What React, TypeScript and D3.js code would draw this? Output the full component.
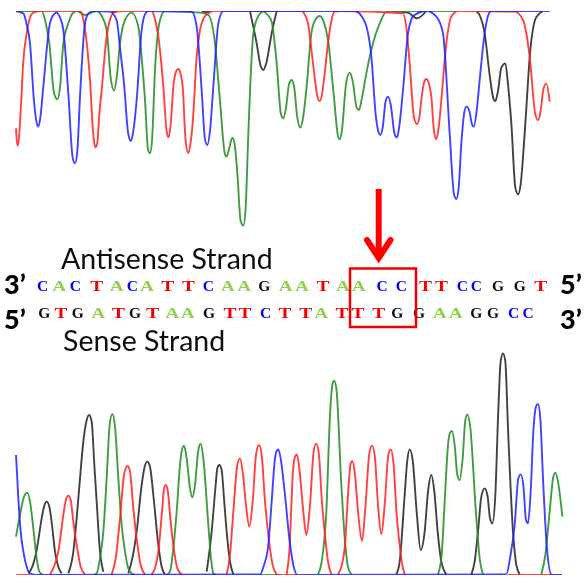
import React from 'react'
import * as d3 from 'd3'

type Trace = [number, number][][]

// scan position, signal strength., one list per stretch of a trace
const antisenseBlack: Trace = [
  [[335,0],[345,3],[352,0]],
  [[605,0],[617,3],[630,0]],
  [[750,2],[770,97],[782,165],[790,177],[798,160],[815,67],[830,0]],
  [[1179,0],[1224,5],[1251,22],[1279,0]],
  [[1429,0],[1440,15],[1454,67],[1470,200],[1481,265],[1486,270],[1494,240],[1504,170],[1516,157],[1524,220],[1534,337],[1546,530],[1554,550],[1562,520],[1574,367],[1591,117],[1608,20],[1629,0]],
]
const antisenseGreen: Trace = [
  [[48,0],[125,0],[137,35],[148,97],[162,245],[172,265],[180,230],[190,97],[205,37],[217,8],[230,0],[255,12],[290,0],[305,15],[320,57],[332,200],[342,239],[350,200],[360,97],[375,27],[395,5],[415,47],[425,140],[435,267],[444,415],[450,427],[456,390],[465,177],[480,27],[495,0],[600,5],[625,12],[645,97],[660,270],[675,430],[680,437],[688,410],[697,380],[704,400],[712,487],[722,630],[730,644],[737,590],[745,367],[760,67],[775,15],[790,2],[803,12],[815,32],[830,157],[843,310],[850,322],[858,290],[867,220],[875,207],[882,225],[892,320],[901,350],[910,315],[919,237],[934,67],[945,28],[959,15],[972,35],[984,87],[1002,260],[1014,375],[1019,385],[1025,365],[1038,220],[1049,185],[1058,210],[1070,290],[1077,297],[1085,265],[1099,187],[1119,97],[1140,35],[1159,2],[1179,0],[1369,0]],
]
const antisenseRed: Trace = [
  [[48,352],[52,404],[56,390],[62,300],[70,150],[80,67],[90,20],[100,5],[120,0],[240,0],[250,25],[258,77],[270,207],[279,360],[284,402],[287,409],[292,395],[298,310],[305,237],[320,77],[332,20],[345,2],[370,0],[455,0],[465,25],[475,77],[490,227],[500,360],[506,379],[512,340],[520,227],[528,182],[535,174],[541,185],[548,227],[557,390],[565,427],[571,400],[578,337],[590,137],[600,57],[612,20],[625,7],[640,0],[904,0],[914,10],[924,37],[939,157],[952,255],[959,270],[966,250],[974,187],[984,97],[994,30],[1004,2],[1020,0],[1209,7],[1219,50],[1229,157],[1242,320],[1251,339],[1258,320],[1264,267],[1272,215],[1279,204],[1286,215],[1294,257],[1302,360],[1309,385],[1316,350],[1324,267],[1339,97],[1354,17],[1374,0],[1544,2],[1569,27],[1589,137],[1606,310],[1614,327],[1622,300],[1630,235],[1639,217],[1649,272]],
]
const antisenseBlue: Trace = [
  [[48,0],[70,7],[80,40],[90,97],[102,270],[110,335],[115,347],[121,320],[130,227],[148,47],[158,15],[170,5],[180,20],[190,57],[205,247],[218,440],[225,457],[232,420],[240,257],[255,37],[265,8],[280,0],[330,2],[350,27],[360,110],[372,217],[385,370],[393,390],[400,360],[410,267],[425,57],[435,10],[445,0],[575,2],[590,47],[605,237],[615,385],[622,402],[630,360],[640,227],[655,37],[670,0],[1064,0],[1094,32],[1114,137],[1128,320],[1136,365],[1141,372],[1148,350],[1157,270],[1164,257],[1172,280],[1184,370],[1191,379],[1198,345],[1209,237],[1224,67],[1234,25],[1244,12],[1279,0],[1309,17],[1329,67],[1349,367],[1362,550],[1369,564],[1376,530],[1384,397],[1392,310],[1399,287],[1408,300],[1416,340],[1421,347],[1430,300],[1439,207],[1454,67],[1464,15],[1474,0],[1649,0]],
]

const senseBlack: Trace = [
  [[85,5],[97,25],[110,75],[125,170],[132,205],[140,220],[148,205],[156,150],[165,70],[175,25],[185,5]],
  [[205,5],[220,70],[230,170],[240,290],[250,400],[259,460],[267,480],[275,460],[283,330],[290,220],[300,70],[310,10]],
  [[385,5],[397,50],[410,130],[425,270],[434,325],[442,340],[450,325],[460,240],[475,90],[485,25],[495,2]],
  [[620,10],[635,130],[647,270],[652,320],[658,330],[665,315],[672,230],[680,130],[690,40],[700,2]],
  [[1189,2],[1199,40],[1214,240],[1222,345],[1229,377],[1238,345],[1250,190],[1262,75],[1274,130],[1284,250],[1294,300],[1303,250],[1313,130],[1324,40],[1339,2]],
  [[1414,2],[1424,40],[1434,130],[1444,235],[1454,260],[1463,235],[1470,170],[1477,155],[1486,240],[1494,470],[1502,640],[1509,665],[1516,640],[1524,440],[1539,130],[1549,30],[1559,2]],
]
const senseGreen: Trace = [
  [[48,115],[60,180],[72,235],[82,247],[90,220],[100,140],[110,50],[118,10],[130,0]],
  [[280,0],[290,5],[300,50],[310,130],[320,290],[329,450],[337,483],[345,445],[355,290],[365,150],[375,70],[385,20],[395,5],[405,0]],
  [[500,0],[510,10],[520,80],[530,190],[540,330],[547,380],[552,388],[560,350],[570,260],[577,233],[585,270],[595,375],[602,394],[610,350],[625,150],[633,50],[640,5],[650,0]],
  [[954,2],[965,40],[979,190],[990,480],[997,570],[1002,583],[1009,560],[1024,270],[1035,100],[1045,20],[1054,2]],
  [[1314,2],[1325,60],[1334,220],[1345,400],[1351,428],[1356,432],[1364,390],[1372,300],[1379,285],[1388,350],[1396,465],[1402,482],[1410,450],[1429,170],[1439,50],[1449,2]],
  [[1624,2],[1636,60],[1649,190],[1660,295],[1666,307],[1674,280],[1687,175]],
]
const senseRed: Trace = [
  [[150,2],[162,25],[175,70],[190,180],[199,230],[205,238],[212,225],[220,160],[230,90],[242,25],[255,2]],
  [[335,2],[347,50],[360,170],[372,300],[378,322],[383,327],[390,310],[400,200],[410,110],[422,30],[435,2]],
  [[455,2],[465,20],[475,70],[486,190],[492,258],[497,270],[503,255],[511,170],[520,90],[532,20],[545,2]],
  [[680,2],[690,60],[700,190],[712,330],[720,350],[728,310],[738,210],[748,145],[758,220],[768,360],[777,390],[785,360],[795,220],[805,120],[818,30],[830,2]],
  [[860,2],[868,70],[879,310],[885,355],[891,362],[899,310],[909,200],[919,120],[930,210],[941,370],[949,394],[957,360],[965,230],[974,130],[984,40],[994,2]],
  [[1014,2],[1024,25],[1034,80],[1046,270],[1052,335],[1057,342],[1064,310],[1075,180],[1086,102],[1096,200],[1108,365],[1116,388],[1124,360],[1134,210],[1144,123],[1154,210],[1165,360],[1172,377],[1180,340],[1190,180],[1199,90],[1207,30],[1214,2]],
]
const senseBlue: Trace = [
  [[48,360],[55,230],[62,130],[70,70],[80,25],[90,5],[110,0],[780,2],[792,30],[805,90],[815,220],[825,350],[830,372],[835,377],[842,350],[855,240],[868,110],[880,30],[892,0],[1519,2],[1530,50],[1544,150],[1555,290],[1562,302],[1570,270],[1578,165],[1584,155],[1592,250],[1600,430],[1608,505],[1614,513],[1621,470],[1629,290],[1640,90],[1654,2],[1664,0],[1687,0]],
]
// bits of the base line where another colour is on top of the blue
const senseBaseRed: Trace = [[[48,0],[90,0]], [[830,0],[892,0]], [[1524,0],[1654,0]]]
const senseBaseGreen: Trace = [[[780,0],[840,0]]]

const antisenseBases = 'CACTACATTCAAGAATAACCTTCCGGT'.split('')
const antisenseCalls = [128,178,226,290,350,397,441,503,565,625,683,733,793,857,906,969,1029,1076,1146,1204,1276,1324,1387,1429,1494,1559,1622]
const senseBases = 'GTGATGTAAGTTCTTATTTGGAAGGCC'.split('')
const senseCalls = [133,183,233,295,355,405,458,517,563,627,690,735,797,855,917,964,1026,1074,1136,1192,1257,1319,1367,1429,1479,1541,1584]

const baseColor: Record<string, string> = { A: '#92d050', T: '#f00000', C: '#0000f0', G: '#111111' }
// A and T are drawn wider than the font has them
const baseStretch: Record<string, number> = { A: 1.25, T: 1.25, C: 1, G: 1 }

const x = d3.scaleLinear().domain([0, 1761]).range([0, 587])
const yTop = d3.scaleLinear().domain([0, 645]).range([11, 226])
const yBottom = d3.scaleLinear().domain([0, 690]).range([575, 345])

const lineFor = (y: d3.ScaleLinear<number, number>) =>
  d3.line<[number, number]>().x(d => x(d[0])).y(d => y(d[1])).curve(d3.curveMonotoneX)

const Traces = ({ trace, y, color }: { trace: Trace; y: d3.ScaleLinear<number, number>; color: string }) => {
  const line = lineFor(y)
  return <>{trace.map((seg, i) => <path key={i} d={line(seg) || ''} fill="none" stroke={color} strokeWidth={1.9} strokeOpacity={0.85} />)}</>
}

const Letters = ({ bases, calls, y }: { bases: string[]; calls: number[]; y: number }) => (
  <>
    {bases.map((b, i) => (
      <text key={i} transform={`translate(${x(calls[i])},${y}) scale(${baseStretch[b]},1)`} textAnchor="middle" fontFamily="'Liberation Serif', serif" fontWeight="bold" fontSize={15.5} fill={baseColor[b]}>{b}</text>
    ))}
  </>
)

export default function App() {
  const label = { fontFamily: "Lato, 'Open Sans', sans-serif", fontSize: 28.5, fill: '#111' }
  const prime = { fontFamily: "Lato, 'Open Sans', sans-serif", fontSize: 27, fontWeight: 900, fill: '#000' }
  return (
    <svg width={587} height={577} style={{ position: 'absolute', left: 0, top: 0, background: '#fff' }}>
      <defs>
        <filter id="soft" x="0" y="0" width="100%" height="100%"><feGaussianBlur stdDeviation={0.4} /></filter>
      </defs>
      <g filter="url(#soft)">
        <Traces trace={antisenseBlack} y={yTop} color="#222222" />
        <Traces trace={antisenseGreen} y={yTop} color="#228b22" />
        <Traces trace={antisenseRed} y={yTop} color="#ff2020" />
        <Traces trace={antisenseBlue} y={yTop} color="#2020ff" />

        <text x={61} y={269} {...label}>Antisense Strand</text>
        <text x={63} y={351} {...label}>Sense Strand</text>
        <text x={4} y={294} {...prime}>3’</text>
        <text x={4} y={329} {...prime}>5’</text>
        <text x={560} y={294} {...prime}>5’</text>
        <text x={560} y={329} {...prime}>3’</text>

        <Letters bases={antisenseBases} calls={antisenseCalls} y={291} />
        <Letters bases={senseBases} calls={senseCalls} y={318} />

        <rect x={350} y={268.5} width={66} height={58.5} fill="none" stroke="#f00000" strokeWidth={2.5} />
        <g stroke="#ff0000" strokeWidth={6} fill="none">
          <line x1={378.7} y1={189} x2={378.7} y2={258} />
          <polyline points="367,240 378.7,258 390.5,240" strokeLinecap="round" />
        </g>

        <Traces trace={senseBaseGreen} y={yBottom} color="#228b22" />
        <Traces trace={senseBlack} y={yBottom} color="#222222" />
        <Traces trace={senseGreen} y={yBottom} color="#228b22" />
        <Traces trace={senseRed} y={yBottom} color="#ff2020" />
        <Traces trace={senseBlue} y={yBottom} color="#2020ff" />
        <Traces trace={senseBaseRed} y={yBottom} color="#ff2020" />
      </g>
    </svg>
  )
}
